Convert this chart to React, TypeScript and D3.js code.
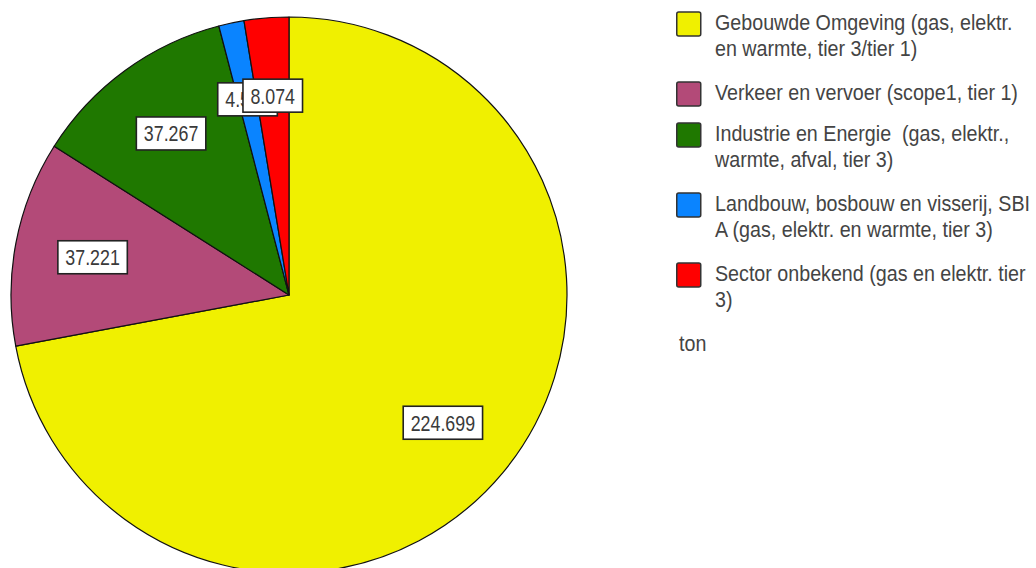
import React, { useEffect, useRef } from "react";
import * as d3 from "d3";

// ---- data ----
const categories: string[] = [
  "Gebouwde Omgeving (gas, elektr. en warmte, tier 3/tier 1)",
  "Verkeer en vervoer (scope1, tier 1)",
  "Industrie en Energie  (gas, elektr., warmte, afval, tier 3)",
  "Landbouw, bosbouw en visserij, SBI A (gas, elektr. en warmte, tier 3)",
  "Sector onbekend (gas en elektr. tier 3)",
];
const legendLines: string[][] = [
  ["Gebouwde Omgeving (gas, elektr.", "en warmte, tier 3/tier 1)"],
  ["Verkeer en vervoer (scope1, tier 1)"],
  ["Industrie en Energie  (gas, elektr.,", "warmte, afval, tier 3)"],
  ["Landbouw, bosbouw en visserij, SBI", "A (gas, elektr. en warmte, tier 3)"],
  ["Sector onbekend (gas en elektr. tier", "3)"],
];
const values: number[] = [224699, 37221, 37267, 4590, 8074];
const colors: string[] = ["#F0F000", "#B34A78", "#1F7800", "#0A84FF", "#FF0000"];
const unitLabel = "ton";

const FONT = "'Liberation Sans', Arial, sans-serif";

export default function App() {
  const ref = useRef<SVGSVGElement | null>(null);

  useEffect(() => {
    const svg = d3.select(ref.current);
    svg.selectAll("*").remove();

    const cx = 289, cy = 295, R = 278, labelR = 200;
    const nl = d3.formatLocale({ decimal: ",", thousands: ".", grouping: [3], currency: ["", ""] });
    const fmt = nl.format(",.0f");

    const pie = d3.pie<number>().sort(null).startAngle(0).endAngle(2 * Math.PI)(values);
    const arc = d3.arc<d3.PieArcDatum<number>>().innerRadius(0).outerRadius(R);
    const labelArc = d3.arc<d3.PieArcDatum<number>>().innerRadius(labelR).outerRadius(labelR);

    const g = svg.append("g").attr("transform", `translate(${cx},${cy})`);
    g.selectAll("path.slice")
      .data(pie)
      .join("path")
      .attr("class", "slice")
      .attr("d", arc as any)
      .attr("fill", (_d, i) => colors[i])
      .attr("stroke", "#111")
      .attr("stroke-width", 1.2)
      .attr("stroke-linejoin", "round");

    const lfs = 22, lsx = 0.81;
    pie.forEach((d, i) => {
      const [x, y] = labelArc.centroid(d);
      const lg = g.append("g").attr("transform", `translate(${x},${y})`);
      const rect = lg.append("rect");
      const t = lg
        .append("text")
        .attr("text-anchor", "middle")
        .attr("transform", `scale(${lsx},1)`)
        .attr("y", lfs * 0.36)
        .attr("font-family", FONT)
        .attr("font-size", lfs)
        .attr("fill", "#3a3a3a")
        .text(fmt(values[i]));
      const w = (t.node() as SVGTextElement).getComputedTextLength() * lsx;
      const bw = w + 15, bh = 33;
      rect
        .attr("x", -bw / 2)
        .attr("y", -bh / 2)
        .attr("width", bw)
        .attr("height", bh)
        .attr("fill", "#fff")
        .attr("stroke", "#222")
        .attr("stroke-width", 1.6);
    });

    // legend
    const fs = 22, sx = 0.895;
    const lx = 676, tx = 715, sw = 24, lineH = 26;
    let base = 30;
    const leg = svg.append("g");
    legendLines.forEach((lines, i) => {
      leg
        .append("rect")
        .attr("x", lx + 0.75)
        .attr("y", base - 18)
        .attr("width", sw)
        .attr("height", sw)
        .attr("rx", 2)
        .attr("fill", colors[i])
        .attr("stroke", "#333")
        .attr("stroke-width", 1.5);
      const t = leg
        .append("text")
        .attr("transform", `translate(${tx},0) scale(${sx},1)`)
        .attr("font-family", FONT)
        .attr("font-size", fs)
        .attr("fill", "#444")
        .style("white-space", "pre");
      t.append("title").text(categories[i]);
      lines.forEach((ln, j) => {
        t.append("tspan").attr("x", 0).attr("y", base + j * lineH).text(ln);
      });
      base += lines.length * lineH + (lines.length > 1 ? 18 : 15);
    });
    leg
      .append("text")
      .attr("transform", `translate(${lx + 3},0) scale(${sx},1)`)
      .attr("y", base)
      .attr("font-family", FONT)
      .attr("font-size", fs)
      .attr("fill", "#444")
      .text(unitLabel);
  }, []);

  return (
    <svg
      ref={ref}
      width={1036}
      height={568}
      style={{ position: "absolute", left: 0, top: 0, background: "#fff" }}
    />
  );
}
